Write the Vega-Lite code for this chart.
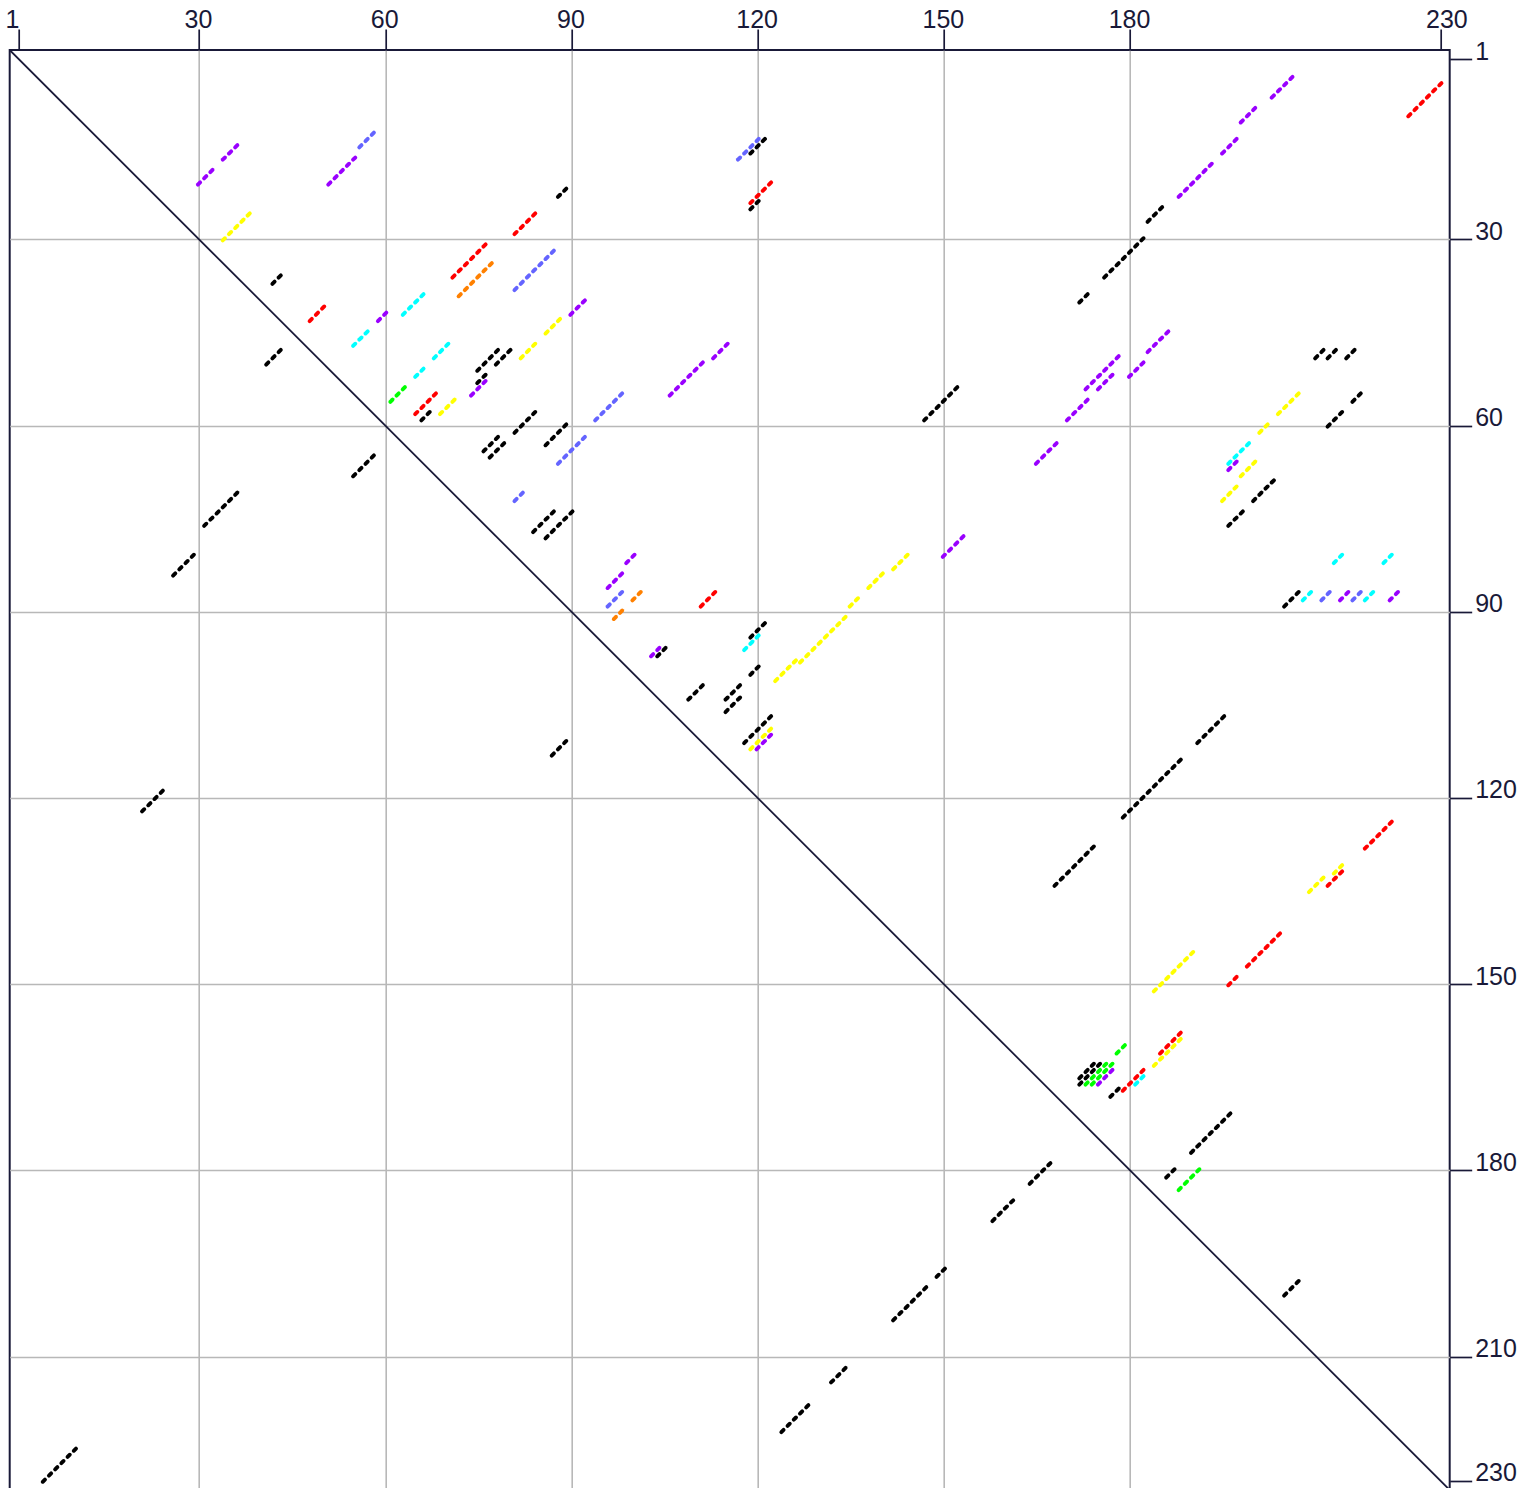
{
"$schema":"https://vega.github.io/schema/vega-lite/v6.json",
"width":1440,"height":1440,
"autosize":{"type":"none"},
"padding":{"left":9.7,"top":50,"right":86,"bottom":0},
"background":"white",
"config":{"view":{"stroke":"#191938","strokeWidth":2}},
"encoding":{
"x":{"field":"x","type":"quantitative","scale":{"domain":[-0.5,231.5],"nice":false,"zero":false},
"axis":{"orient":"top","values":[1,30,60,90,120,150,180,230],"title":null,"format":"d","grid":true,"gridColor":"#b8b8b8","gridWidth":1.6,
"gridOpacity":{"condition":{"test":"datum.value == 1 || datum.value == 230","value":0},"value":1},
"domain":false,"tickSize":21,"tickWidth":1.7,"tickColor":"#191938","labelFont":"Liberation Sans","labelFontSize":25,"labelColor":"#191938","labelPadding":2,"labelBaseline":"alphabetic","labelFlush":false,"labelOverlap":false,
"labelOffset":{"condition":[{"test":"datum.value == 1","value":-7},{"test":"datum.value == 230","value":6}],"value":-1}}},
"y":{"field":"y","type":"quantitative","scale":{"domain":[-0.5,231.5],"nice":false,"zero":false,"reverse":true},
"axis":{"orient":"right","values":[1,30,60,90,120,150,180,210,230],"title":null,"format":"d","grid":true,"gridColor":"#b8b8b8","gridWidth":1.6,
"gridOpacity":{"condition":{"test":"datum.value == 1 || datum.value == 230","value":0},"value":1},
"domain":false,"tickSize":22,"tickWidth":1.7,"tickColor":"#191938","labelFont":"Liberation Sans","labelFontSize":25,"labelColor":"#191938","labelPadding":3,"labelBaseline":"alphabetic","labelAlign":"left","labelFlush":false,"labelOverlap":false}}
},
"layer":[
{"data":{"values":[{"x":-0.5,"y":-0.5},{"x":231.5,"y":231.5}]},
"mark":{"type":"line","color":"#191938","strokeWidth":1.8,"clip":true}},
{"data":{"values":[
{"x":30,"y":21,"c":"p"},{"x":31,"y":20,"c":"p"},{"x":32,"y":19,"c":"p"},{"x":34,"y":17,"c":"p"},{"x":35,"y":16,"c":"p"},{"x":36,"y":15,"c":"p"},
{"x":51,"y":21,"c":"p"},{"x":52,"y":20,"c":"p"},{"x":53,"y":19,"c":"p"},{"x":54,"y":18,"c":"p"},{"x":55,"y":17,"c":"p"},
{"x":59,"y":43,"c":"p"},{"x":60,"y":42,"c":"p"},
{"x":90,"y":42,"c":"p"},{"x":91,"y":41,"c":"p"},{"x":92,"y":40,"c":"p"},
{"x":74,"y":55,"c":"p"},{"x":75,"y":54,"c":"p"},{"x":76,"y":53,"c":"p"},
{"x":106,"y":55,"c":"p"},{"x":107,"y":54,"c":"p"},{"x":108,"y":53,"c":"p"},{"x":109,"y":52,"c":"p"},{"x":110,"y":51,"c":"p"},{"x":111,"y":50,"c":"p"},{"x":113,"y":49,"c":"p"},{"x":114,"y":48,"c":"p"},{"x":115,"y":47,"c":"p"},
{"x":96,"y":86,"c":"p"},{"x":97,"y":85,"c":"p"},{"x":98,"y":84,"c":"p"},{"x":99,"y":82,"c":"p"},{"x":100,"y":81,"c":"p"},
{"x":103,"y":97,"c":"p"},{"x":104,"y":96,"c":"p"},
{"x":120,"y":112,"c":"p"},{"x":121,"y":111,"c":"p"},{"x":122,"y":110,"c":"p"},
{"x":150,"y":81,"c":"p"},{"x":151,"y":80,"c":"p"},{"x":152,"y":79,"c":"p"},{"x":153,"y":78,"c":"p"},
{"x":203,"y":7,"c":"p"},{"x":204,"y":6,"c":"p"},{"x":205,"y":5,"c":"p"},{"x":206,"y":4,"c":"p"},
{"x":198,"y":11,"c":"p"},{"x":199,"y":10,"c":"p"},{"x":200,"y":9,"c":"p"},
{"x":195,"y":16,"c":"p"},{"x":196,"y":15,"c":"p"},{"x":197,"y":14,"c":"p"},
{"x":188,"y":23,"c":"p"},{"x":189,"y":22,"c":"p"},{"x":190,"y":21,"c":"p"},{"x":191,"y":20,"c":"p"},{"x":192,"y":19,"c":"p"},{"x":193,"y":18,"c":"p"},
{"x":165,"y":66,"c":"p"},{"x":166,"y":65,"c":"p"},{"x":167,"y":64,"c":"p"},{"x":168,"y":63,"c":"p"},
{"x":170,"y":59,"c":"p"},{"x":171,"y":58,"c":"p"},{"x":172,"y":57,"c":"p"},{"x":173,"y":56,"c":"p"},
{"x":173,"y":54,"c":"p"},{"x":174,"y":53,"c":"p"},{"x":175,"y":52,"c":"p"},{"x":176,"y":51,"c":"p"},{"x":177,"y":50,"c":"p"},{"x":178,"y":49,"c":"p"},
{"x":175,"y":54,"c":"p"},{"x":176,"y":53,"c":"p"},{"x":177,"y":52,"c":"p"},
{"x":180,"y":52,"c":"p"},{"x":181,"y":51,"c":"p"},{"x":182,"y":50,"c":"p"},
{"x":183,"y":48,"c":"p"},{"x":184,"y":47,"c":"p"},{"x":185,"y":46,"c":"p"},{"x":186,"y":45,"c":"p"},
{"x":196,"y":67,"c":"p"},{"x":197,"y":66,"c":"p"},
{"x":214,"y":88,"c":"p"},{"x":215,"y":87,"c":"p"},
{"x":222,"y":88,"c":"p"},{"x":223,"y":87,"c":"p"},
{"x":175,"y":166,"c":"p"},{"x":176,"y":165,"c":"p"},{"x":177,"y":164,"c":"p"},
{"x":56,"y":15,"c":"b"},{"x":57,"y":14,"c":"b"},{"x":58,"y":13,"c":"b"},
{"x":81,"y":38,"c":"b"},{"x":82,"y":37,"c":"b"},{"x":83,"y":36,"c":"b"},{"x":84,"y":35,"c":"b"},{"x":85,"y":34,"c":"b"},{"x":86,"y":33,"c":"b"},{"x":87,"y":32,"c":"b"},
{"x":94,"y":59,"c":"b"},{"x":95,"y":58,"c":"b"},{"x":96,"y":57,"c":"b"},{"x":97,"y":56,"c":"b"},{"x":98,"y":55,"c":"b"},
{"x":88,"y":66,"c":"b"},{"x":89,"y":65,"c":"b"},{"x":90,"y":64,"c":"b"},{"x":91,"y":63,"c":"b"},{"x":92,"y":62,"c":"b"},
{"x":81,"y":72,"c":"b"},{"x":82,"y":71,"c":"b"},
{"x":96,"y":89,"c":"b"},{"x":97,"y":88,"c":"b"},{"x":98,"y":87,"c":"b"},
{"x":117,"y":17,"c":"b"},{"x":118,"y":16,"c":"b"},{"x":119,"y":15,"c":"b"},{"x":120,"y":14,"c":"b"},
{"x":211,"y":88,"c":"b"},{"x":212,"y":87,"c":"b"},
{"x":216,"y":88,"c":"b"},{"x":217,"y":87,"c":"b"},
{"x":48,"y":43,"c":"r"},{"x":49,"y":42,"c":"r"},{"x":50,"y":41,"c":"r"},
{"x":71,"y":36,"c":"r"},{"x":72,"y":35,"c":"r"},{"x":73,"y":34,"c":"r"},{"x":74,"y":33,"c":"r"},{"x":75,"y":32,"c":"r"},{"x":76,"y":31,"c":"r"},
{"x":81,"y":29,"c":"r"},{"x":82,"y":28,"c":"r"},{"x":83,"y":27,"c":"r"},{"x":84,"y":26,"c":"r"},
{"x":65,"y":58,"c":"r"},{"x":66,"y":57,"c":"r"},{"x":67,"y":56,"c":"r"},{"x":68,"y":55,"c":"r"},
{"x":111,"y":89,"c":"r"},{"x":112,"y":88,"c":"r"},{"x":113,"y":87,"c":"r"},
{"x":119,"y":24,"c":"r"},{"x":120,"y":23,"c":"r"},{"x":121,"y":22,"c":"r"},{"x":122,"y":21,"c":"r"},
{"x":225,"y":10,"c":"r"},{"x":226,"y":9,"c":"r"},{"x":227,"y":8,"c":"r"},{"x":228,"y":7,"c":"r"},{"x":229,"y":6,"c":"r"},{"x":230,"y":5,"c":"r"},
{"x":218,"y":128,"c":"r"},{"x":219,"y":127,"c":"r"},{"x":220,"y":126,"c":"r"},{"x":221,"y":125,"c":"r"},{"x":222,"y":124,"c":"r"},
{"x":212,"y":134,"c":"r"},{"x":213,"y":133,"c":"r"},{"x":214,"y":132,"c":"r"},
{"x":196,"y":150,"c":"r"},{"x":197,"y":149,"c":"r"},
{"x":199,"y":147,"c":"r"},{"x":200,"y":146,"c":"r"},{"x":201,"y":145,"c":"r"},{"x":202,"y":144,"c":"r"},{"x":203,"y":143,"c":"r"},{"x":204,"y":142,"c":"r"},
{"x":179,"y":167,"c":"r"},{"x":180,"y":166,"c":"r"},{"x":181,"y":165,"c":"r"},{"x":182,"y":164,"c":"r"},
{"x":185,"y":161,"c":"r"},{"x":186,"y":160,"c":"r"},{"x":187,"y":159,"c":"r"},{"x":188,"y":158,"c":"r"},
{"x":72,"y":39,"c":"o"},{"x":73,"y":38,"c":"o"},{"x":74,"y":37,"c":"o"},{"x":75,"y":36,"c":"o"},{"x":76,"y":35,"c":"o"},{"x":77,"y":34,"c":"o"},
{"x":100,"y":88,"c":"o"},{"x":101,"y":87,"c":"o"},
{"x":97,"y":91,"c":"o"},{"x":98,"y":90,"c":"o"},
{"x":34,"y":30,"c":"y"},{"x":35,"y":29,"c":"y"},{"x":36,"y":28,"c":"y"},{"x":37,"y":27,"c":"y"},{"x":38,"y":26,"c":"y"},
{"x":86,"y":45,"c":"y"},{"x":87,"y":44,"c":"y"},{"x":88,"y":43,"c":"y"},
{"x":82,"y":49,"c":"y"},{"x":83,"y":48,"c":"y"},{"x":84,"y":47,"c":"y"},
{"x":69,"y":58,"c":"y"},{"x":70,"y":57,"c":"y"},{"x":71,"y":56,"c":"y"},
{"x":119,"y":112,"c":"y"},{"x":120,"y":111,"c":"y"},{"x":121,"y":110,"c":"y"},{"x":122,"y":109,"c":"y"},
{"x":123,"y":101,"c":"y"},{"x":124,"y":100,"c":"y"},{"x":125,"y":99,"c":"y"},{"x":126,"y":98,"c":"y"},{"x":127,"y":98,"c":"y"},{"x":128,"y":97,"c":"y"},{"x":129,"y":96,"c":"y"},{"x":130,"y":95,"c":"y"},{"x":131,"y":94,"c":"y"},{"x":132,"y":93,"c":"y"},{"x":133,"y":92,"c":"y"},{"x":134,"y":91,"c":"y"},{"x":135,"y":89,"c":"y"},{"x":136,"y":88,"c":"y"},{"x":138,"y":86,"c":"y"},{"x":139,"y":85,"c":"y"},{"x":140,"y":84,"c":"y"},{"x":142,"y":83,"c":"y"},{"x":143,"y":82,"c":"y"},{"x":144,"y":81,"c":"y"},
{"x":204,"y":58,"c":"y"},{"x":205,"y":57,"c":"y"},{"x":206,"y":56,"c":"y"},{"x":207,"y":55,"c":"y"},
{"x":201,"y":61,"c":"y"},{"x":202,"y":60,"c":"y"},
{"x":198,"y":68,"c":"y"},{"x":199,"y":67,"c":"y"},{"x":200,"y":66,"c":"y"},
{"x":195,"y":72,"c":"y"},{"x":196,"y":71,"c":"y"},{"x":197,"y":70,"c":"y"},
{"x":209,"y":135,"c":"y"},{"x":210,"y":134,"c":"y"},{"x":211,"y":133,"c":"y"},
{"x":213,"y":132,"c":"y"},{"x":214,"y":131,"c":"y"},
{"x":184,"y":151,"c":"y"},{"x":185,"y":150,"c":"y"},{"x":186,"y":149,"c":"y"},{"x":187,"y":148,"c":"y"},{"x":188,"y":147,"c":"y"},{"x":189,"y":146,"c":"y"},{"x":190,"y":145,"c":"y"},
{"x":184,"y":163,"c":"y"},{"x":185,"y":162,"c":"y"},{"x":186,"y":161,"c":"y"},{"x":187,"y":160,"c":"y"},{"x":188,"y":159,"c":"y"},
{"x":61,"y":56,"c":"g"},{"x":62,"y":55,"c":"g"},{"x":63,"y":54,"c":"g"},
{"x":178,"y":161,"c":"g"},{"x":179,"y":160,"c":"g"},
{"x":173,"y":166,"c":"g"},{"x":174,"y":165,"c":"g"},{"x":175,"y":164,"c":"g"},{"x":176,"y":163,"c":"g"},
{"x":174,"y":166,"c":"g"},{"x":175,"y":165,"c":"g"},{"x":176,"y":164,"c":"g"},{"x":177,"y":163,"c":"g"},
{"x":188,"y":183,"c":"g"},{"x":189,"y":182,"c":"g"},{"x":190,"y":181,"c":"g"},{"x":191,"y":180,"c":"g"},
{"x":63,"y":42,"c":"c"},{"x":64,"y":41,"c":"c"},{"x":65,"y":40,"c":"c"},{"x":66,"y":39,"c":"c"},
{"x":55,"y":47,"c":"c"},{"x":56,"y":46,"c":"c"},{"x":57,"y":45,"c":"c"},
{"x":68,"y":49,"c":"c"},{"x":69,"y":48,"c":"c"},{"x":70,"y":47,"c":"c"},
{"x":65,"y":52,"c":"c"},{"x":66,"y":51,"c":"c"},
{"x":118,"y":96,"c":"c"},{"x":119,"y":95,"c":"c"},{"x":120,"y":94,"c":"c"},
{"x":196,"y":66,"c":"c"},{"x":197,"y":65,"c":"c"},{"x":198,"y":64,"c":"c"},{"x":199,"y":63,"c":"c"},
{"x":213,"y":82,"c":"c"},{"x":214,"y":81,"c":"c"},
{"x":221,"y":82,"c":"c"},{"x":222,"y":81,"c":"c"},
{"x":208,"y":88,"c":"c"},{"x":209,"y":87,"c":"c"},
{"x":218,"y":88,"c":"c"},{"x":219,"y":87,"c":"c"},
{"x":181,"y":166,"c":"c"},{"x":182,"y":165,"c":"c"},
{"x":42,"y":37,"c":"k"},{"x":43,"y":36,"c":"k"},
{"x":41,"y":50,"c":"k"},{"x":42,"y":49,"c":"k"},{"x":43,"y":48,"c":"k"},
{"x":88,"y":23,"c":"k"},{"x":89,"y":22,"c":"k"},
{"x":75,"y":51,"c":"k"},{"x":76,"y":50,"c":"k"},{"x":77,"y":49,"c":"k"},{"x":78,"y":48,"c":"k"},
{"x":78,"y":50,"c":"k"},{"x":79,"y":49,"c":"k"},{"x":80,"y":48,"c":"k"},
{"x":75,"y":53,"c":"k"},{"x":76,"y":52,"c":"k"},
{"x":66,"y":59,"c":"k"},{"x":67,"y":58,"c":"k"},
{"x":81,"y":61,"c":"k"},{"x":82,"y":60,"c":"k"},{"x":83,"y":59,"c":"k"},{"x":84,"y":58,"c":"k"},
{"x":86,"y":63,"c":"k"},{"x":87,"y":62,"c":"k"},{"x":88,"y":61,"c":"k"},{"x":89,"y":60,"c":"k"},
{"x":76,"y":64,"c":"k"},{"x":77,"y":63,"c":"k"},{"x":78,"y":62,"c":"k"},
{"x":77,"y":65,"c":"k"},{"x":78,"y":64,"c":"k"},{"x":79,"y":63,"c":"k"},
{"x":55,"y":68,"c":"k"},{"x":56,"y":67,"c":"k"},{"x":57,"y":66,"c":"k"},{"x":58,"y":65,"c":"k"},
{"x":84,"y":77,"c":"k"},{"x":85,"y":76,"c":"k"},{"x":86,"y":75,"c":"k"},{"x":87,"y":74,"c":"k"},
{"x":86,"y":78,"c":"k"},{"x":87,"y":77,"c":"k"},{"x":88,"y":76,"c":"k"},{"x":89,"y":75,"c":"k"},{"x":90,"y":74,"c":"k"},
{"x":31,"y":76,"c":"k"},{"x":32,"y":75,"c":"k"},{"x":33,"y":74,"c":"k"},{"x":34,"y":73,"c":"k"},{"x":35,"y":72,"c":"k"},{"x":36,"y":71,"c":"k"},
{"x":26,"y":84,"c":"k"},{"x":27,"y":83,"c":"k"},{"x":28,"y":82,"c":"k"},{"x":29,"y":81,"c":"k"},
{"x":21,"y":122,"c":"k"},{"x":22,"y":121,"c":"k"},{"x":23,"y":120,"c":"k"},{"x":24,"y":119,"c":"k"},
{"x":5,"y":230,"c":"k"},{"x":6,"y":229,"c":"k"},{"x":7,"y":228,"c":"k"},{"x":8,"y":227,"c":"k"},{"x":9,"y":226,"c":"k"},{"x":10,"y":225,"c":"k"},
{"x":104,"y":97,"c":"k"},{"x":105,"y":96,"c":"k"},
{"x":119,"y":94,"c":"k"},{"x":120,"y":93,"c":"k"},{"x":121,"y":92,"c":"k"},
{"x":119,"y":100,"c":"k"},{"x":120,"y":99,"c":"k"},
{"x":109,"y":104,"c":"k"},{"x":110,"y":103,"c":"k"},{"x":111,"y":102,"c":"k"},
{"x":115,"y":104,"c":"k"},{"x":116,"y":103,"c":"k"},{"x":117,"y":102,"c":"k"},
{"x":115,"y":106,"c":"k"},{"x":116,"y":105,"c":"k"},{"x":117,"y":104,"c":"k"},
{"x":118,"y":111,"c":"k"},{"x":119,"y":110,"c":"k"},{"x":120,"y":109,"c":"k"},{"x":121,"y":108,"c":"k"},{"x":122,"y":107,"c":"k"},
{"x":87,"y":113,"c":"k"},{"x":88,"y":112,"c":"k"},{"x":89,"y":111,"c":"k"},
{"x":119,"y":16,"c":"k"},{"x":120,"y":15,"c":"k"},{"x":121,"y":14,"c":"k"},
{"x":119,"y":25,"c":"k"},{"x":120,"y":24,"c":"k"},
{"x":147,"y":59,"c":"k"},{"x":148,"y":58,"c":"k"},{"x":149,"y":57,"c":"k"},{"x":150,"y":56,"c":"k"},{"x":151,"y":55,"c":"k"},{"x":152,"y":54,"c":"k"},
{"x":183,"y":27,"c":"k"},{"x":184,"y":26,"c":"k"},{"x":185,"y":25,"c":"k"},
{"x":176,"y":36,"c":"k"},{"x":177,"y":35,"c":"k"},{"x":178,"y":34,"c":"k"},{"x":179,"y":33,"c":"k"},{"x":180,"y":32,"c":"k"},{"x":181,"y":31,"c":"k"},{"x":182,"y":30,"c":"k"},
{"x":172,"y":40,"c":"k"},{"x":173,"y":39,"c":"k"},
{"x":210,"y":49,"c":"k"},{"x":211,"y":48,"c":"k"},{"x":212,"y":49,"c":"k"},{"x":213,"y":48,"c":"k"},{"x":215,"y":49,"c":"k"},{"x":216,"y":48,"c":"k"},
{"x":216,"y":56,"c":"k"},{"x":217,"y":55,"c":"k"},
{"x":212,"y":60,"c":"k"},{"x":213,"y":59,"c":"k"},{"x":214,"y":58,"c":"k"},
{"x":200,"y":72,"c":"k"},{"x":201,"y":71,"c":"k"},{"x":202,"y":70,"c":"k"},{"x":203,"y":69,"c":"k"},
{"x":196,"y":76,"c":"k"},{"x":197,"y":75,"c":"k"},{"x":198,"y":74,"c":"k"},
{"x":205,"y":89,"c":"k"},{"x":206,"y":88,"c":"k"},{"x":207,"y":87,"c":"k"},
{"x":191,"y":111,"c":"k"},{"x":192,"y":110,"c":"k"},{"x":193,"y":109,"c":"k"},{"x":194,"y":108,"c":"k"},{"x":195,"y":107,"c":"k"},
{"x":179,"y":123,"c":"k"},{"x":180,"y":122,"c":"k"},{"x":181,"y":121,"c":"k"},{"x":182,"y":120,"c":"k"},{"x":183,"y":119,"c":"k"},{"x":184,"y":118,"c":"k"},{"x":185,"y":117,"c":"k"},{"x":186,"y":116,"c":"k"},{"x":187,"y":115,"c":"k"},{"x":188,"y":114,"c":"k"},
{"x":168,"y":134,"c":"k"},{"x":169,"y":133,"c":"k"},{"x":170,"y":132,"c":"k"},{"x":171,"y":131,"c":"k"},{"x":172,"y":130,"c":"k"},{"x":173,"y":129,"c":"k"},{"x":174,"y":128,"c":"k"},
{"x":172,"y":165,"c":"k"},{"x":173,"y":164,"c":"k"},{"x":174,"y":163,"c":"k"},
{"x":172,"y":166,"c":"k"},{"x":173,"y":165,"c":"k"},{"x":174,"y":164,"c":"k"},{"x":175,"y":163,"c":"k"},
{"x":177,"y":168,"c":"k"},{"x":178,"y":167,"c":"k"},
{"x":190,"y":177,"c":"k"},{"x":191,"y":176,"c":"k"},{"x":192,"y":175,"c":"k"},{"x":193,"y":174,"c":"k"},{"x":194,"y":173,"c":"k"},{"x":195,"y":172,"c":"k"},{"x":196,"y":171,"c":"k"},
{"x":186,"y":181,"c":"k"},{"x":187,"y":180,"c":"k"},
{"x":164,"y":182,"c":"k"},{"x":165,"y":181,"c":"k"},{"x":166,"y":180,"c":"k"},{"x":167,"y":179,"c":"k"},
{"x":158,"y":188,"c":"k"},{"x":159,"y":187,"c":"k"},{"x":160,"y":186,"c":"k"},{"x":161,"y":185,"c":"k"},
{"x":149,"y":197,"c":"k"},{"x":150,"y":196,"c":"k"},
{"x":142,"y":204,"c":"k"},{"x":143,"y":203,"c":"k"},{"x":144,"y":202,"c":"k"},{"x":145,"y":201,"c":"k"},{"x":146,"y":200,"c":"k"},{"x":147,"y":199,"c":"k"},
{"x":205,"y":200,"c":"k"},{"x":206,"y":199,"c":"k"},{"x":207,"y":198,"c":"k"},
{"x":132,"y":214,"c":"k"},{"x":133,"y":213,"c":"k"},{"x":134,"y":212,"c":"k"},
{"x":124,"y":222,"c":"k"},{"x":125,"y":221,"c":"k"},{"x":126,"y":220,"c":"k"},{"x":127,"y":219,"c":"k"},{"x":128,"y":218,"c":"k"}
]},
"mark":{"type":"point","shape":"M-1,1L1,-1","filled":false,"strokeWidth":3.9,"strokeCap":"round","size":5,"opacity":1},
"encoding":{"color":{"field":"c","type":"nominal","legend":null,
"scale":{"domain":["k","r","o","y","g","c","b","p"],"range":["#000000","#ff0000","#ff8000","#ffff00","#00ff00","#00ffff","#6464ff","#9900ff"]}}}}
]
}
